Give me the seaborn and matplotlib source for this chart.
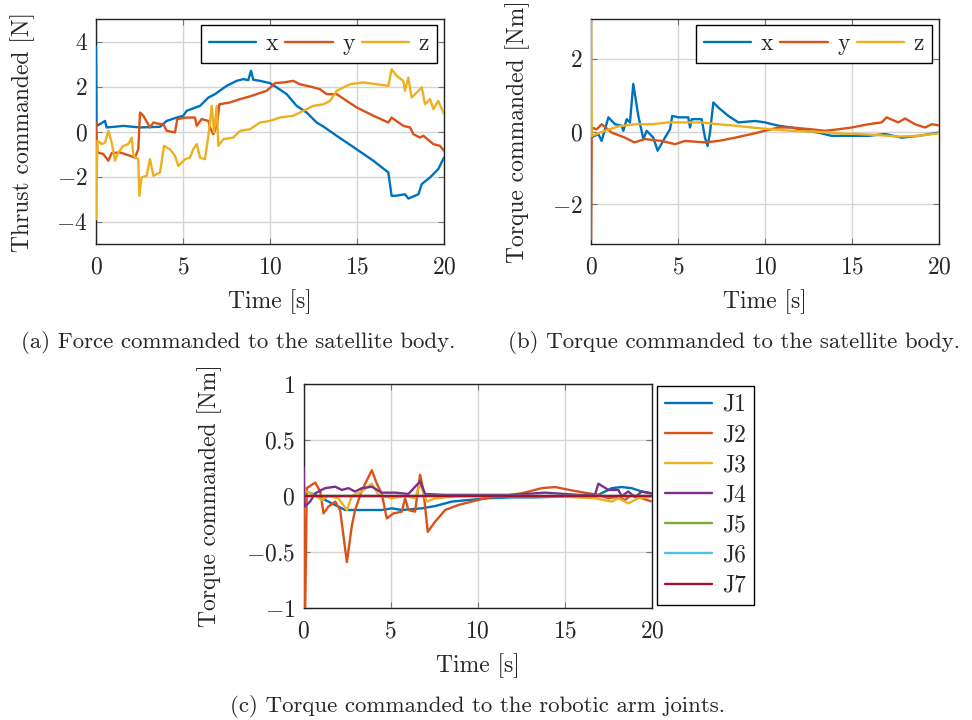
import numpy as np
import pandas as pd
import matplotlib.pyplot as plt
from matplotlib.ticker import FuncFormatter
import seaborn as sns

# ---- data ----
# (a) thrust commanded [N]
fx_t = [0, 0.03, 0.23, 0.52, 0.61, 1.19, 1.57, 2.53, 3.68, 4.06, 4.64, 5.02, 5.21, 5.98, 6.46, 6.84,
        7.51, 8.08, 8.47, 8.75, 8.91, 9.04, 9.43, 10.0, 10.38, 10.96, 11.53, 12.11, 12.68, 13.07, 13.83,
        14.98, 15.94, 16.80, 16.99, 17.18, 17.76, 17.95, 18.53, 18.72, 19.20, 19.67, 20.0]
fx_v = [3.76, 0.25, 0.33, 0.47, 0.18, 0.22, 0.25, 0.18, 0.21, 0.47, 0.62, 0.70, 0.92, 1.14, 1.51, 1.66,
        2.03, 2.25, 2.33, 2.28, 2.70, 2.30, 2.25, 2.15, 1.96, 1.66, 1.14, 0.84, 0.40, 0.22, -0.19,
        -0.79, -1.30, -1.82, -2.86, -2.86, -2.79, -2.98, -2.79, -2.34, -2.04, -1.67, -1.16]
fy_t = [0, 0.08, 0.42, 0.71, 0.90, 1.38, 1.95, 2.24, 2.43, 2.53, 2.72, 3.10, 3.30, 3.68, 3.87, 4.06,
        4.54, 4.67, 5.21, 5.69, 5.79, 6.07, 6.46, 6.55, 6.74, 6.94, 7.09, 7.70, 8.28, 8.85, 9.23, 9.81,
        10.29, 10.77, 11.34, 11.72, 12.30, 12.87, 13.26, 13.83, 14.41, 14.98, 15.94, 16.80, 16.99,
        17.66, 18.05, 18.24, 18.62, 18.81, 19.39, 19.77, 20.0]
fy_v = [0.40, -0.93, -1.0, -1.30, -0.96, -0.93, -1.08, -1.16, -0.79, 0.84, 0.70, 0.18, 0.40, 0.33, 0.33, 0.03,
        -0.04, 0.55, 0.62, 0.62, 0.25, 0.55, 0.47, 0.18, -0.12, 0.25, 1.21, 1.29, 1.44, 1.56, 1.66, 1.81,
        2.15, 2.18, 2.25, 2.10, 2.0, 1.88, 1.66, 1.66, 1.36, 1.07, 0.70, 0.40, 0.62,
        0.25, 0.18, -0.12, -0.27, -0.19, -0.56, -0.64, -0.86]
fz_t = [0, 0.08, 0.33, 0.52, 0.71, 0.90, 1.09, 1.28, 1.57, 1.86, 2.05, 2.15, 2.43, 2.49, 2.62, 2.91,
        3.10, 3.30, 3.68, 3.91, 4.25, 4.54, 4.73, 5.12, 5.40, 5.59, 5.79, 5.98, 6.26, 6.46, 6.65, 6.78,
        6.94, 7.03, 7.32, 7.89, 8.28, 8.85, 9.43, 10.0, 10.57, 11.34, 11.92, 12.49, 13.07, 13.45, 13.83,
        14.60, 15.36, 16.13, 16.80, 16.99, 17.28, 17.66, 17.76, 17.95, 18.14, 18.43, 18.72, 18.91,
        19.20, 19.39, 19.67, 20.0]
fz_v = [-3.9, -0.41, -0.56, -0.49, 0.03, -0.49, -1.30, -0.93, -0.64, -0.56, -0.27, -1.08, -1.23, -2.86, -2.04, -1.97,
        -1.23, -1.97, -1.82, -0.64, -0.79, -1.08, -1.53, -1.23, -1.16, -0.79, -0.56, -1.16, -1.23, -0.19, 1.14, -0.04,
        1.14, -0.64, -0.34, -0.27, 0.03, 0.10, 0.40, 0.47, 0.62, 0.70, 0.92, 1.14, 1.21, 1.36, 1.81,
        2.10, 2.18, 2.10, 2.03, 2.77, 2.47, 2.25, 1.81, 2.40, 1.51, 1.73, 1.96, 1.21,
        1.44, 0.99, 1.36, 0.77]

# (b) torque commanded [Nm]
tx_t = [0, 0.42, 0.61, 1.0, 1.38, 1.76, 1.86, 2.05, 2.24, 2.43, 2.72, 3.01, 3.20, 3.58, 3.83, 4.25,
        4.54, 4.67, 5.02, 5.59, 5.69, 5.79, 6.36, 6.55, 6.70, 6.84, 7.03, 7.32, 7.89, 8.47, 9.43, 10.0,
        10.77, 11.53, 12.30, 13.07, 13.83, 14.98, 15.94, 16.90, 17.85, 18.81, 20.0]
tx_v = [-0.17, -0.07, -0.26, 0.39, 0.20, 0.16, 0.02, 0.34, 0.25, 1.31, 0.43, -0.21, 0.02, -0.17, -0.53, -0.17,
        0.06, 0.43, 0.39, 0.39, 0.11, 0.34, 0.34, -0.17, -0.40, -0.03, 0.80, 0.66, 0.43, 0.25, 0.29, 0.25,
        0.16, 0.11, 0.02, -0.03, -0.12, -0.12, -0.12, -0.07, -0.17, -0.12, -0.03]
ty_t = [0, 0.04, 0.33, 0.61, 1.19, 1.95, 2.49, 3.10, 4.06, 4.83, 5.40, 6.55, 7.32, 8.28, 9.23, 10.0,
        10.77, 11.53, 12.68, 13.45, 14.21, 14.98, 15.94, 16.70, 16.99, 17.66, 18.05, 18.62, 19.20, 19.58, 20.0]
ty_v = [-2.97, 0.11, 0.06, 0.20, -0.03, -0.17, -0.30, -0.21, -0.26, -0.35, -0.26, -0.30, -0.26, -0.17, -0.07, 0.02,
        0.11, 0.11, 0.06, 0.02, 0.06, 0.11, 0.20, 0.25, 0.39, 0.25, 0.36, 0.20, 0.11, 0.20, 0.17]
tz_t = [0, 0.04, 0.8, 1.57, 2.53, 3.49, 4.44, 5.40, 6.36, 7.32, 8.28, 9.23, 10.38, 11.53, 13.07, 14.21,
        15.36, 16.51, 17.66, 18.81, 20.0]
tz_v = [3.05, -0.12, 0.02, 0.14, 0.20, 0.20, 0.25, 0.25, 0.25, 0.20, 0.16, 0.11, 0.06, 0.02, -0.01, -0.05,
        -0.07, -0.10, -0.14, -0.12, -0.05]

# (c) joint torques [Nm]
j1_t = [0, 0.67, 1.43, 2.39, 3.35, 4.49, 5.07, 5.64, 6.79, 7.55, 8.51, 9.46, 10.61, 11.95, 13.29, 14.82,
        16.16, 16.92, 17.69, 18.26, 18.83, 19.41, 20.0]
j1_v = [0.05, 0.01, -0.05, -0.125, -0.125, -0.125, -0.11, -0.125, -0.11, -0.09, -0.05, -0.036, -0.02, -0.012,
        -0.012, -0.006, 0.0, 0.01, 0.07, 0.08, 0.07, 0.04, 0.02]
j2_t = [0, 0.1, 0.19, 0.67, 0.96, 1.15, 1.43, 1.82, 2.10, 2.49, 2.77, 2.96, 3.35, 3.92, 4.21, 4.49, 4.78,
        5.16, 5.64, 5.83, 6.02, 6.40, 6.69, 6.88, 7.13, 7.55, 8.13, 8.89, 9.66, 10.42, 11.38, 12.52, 13.67,
        14.44, 15.39, 16.35, 16.92, 17.50, 18.07, 18.45, 18.83, 19.41, 20.0]
j2_v = [0.08, -1.0, 0.07, 0.12, 0.04, -0.155, -0.095, -0.05, -0.125, -0.59, -0.27, -0.125, 0.05, 0.23, 0.11,
        0.02, -0.2, -0.155, -0.14, -0.02, -0.125, -0.14, 0.19, 0.05, -0.32, -0.23, -0.125, -0.08, -0.05, -0.02,
        0.0, 0.024, 0.07, 0.08, 0.05, 0.024, 0.01, -0.02, -0.006, -0.036, 0.01, -0.02, -0.05]
j3_t = [0, 0.48, 1.05, 1.43, 2.0, 2.49, 2.77, 3.35, 3.92, 4.30, 5.07, 5.83, 6.40, 6.69, 7.07, 7.55, 9.08,
        10.99, 12.9, 14.82, 16.73, 17.69, 18.07, 18.64, 19.22, 20.0]
j3_v = [0.05, 0.02, -0.036, 0.0, -0.02, -0.125, 0.0, 0.04, 0.11, 0.01, -0.02, 0.0, -0.02, 0.11, -0.05, -0.02,
        0.0, 0.0, 0.0, -0.006, -0.02, -0.05, -0.02, -0.065, -0.02, -0.006]
j4_t = [0, 0.06, 0.38, 0.67, 1.24, 1.82, 2.2, 2.58, 2.96, 3.35, 3.92, 4.49, 5.26, 6.02, 6.69, 6.98, 8.13,
        10.04, 11.95, 13.86, 15.77, 16.73, 16.92, 17.50, 18.07, 18.26, 18.64, 19.02, 19.41, 20.0]
j4_v = [0.26, -0.095, -0.05, 0.024, 0.07, 0.083, 0.054, 0.07, 0.04, 0.07, 0.083, 0.03, 0.03, 0.018, 0.13,
        0.018, 0.01, 0.01, 0.01, 0.03, 0.01, 0.01, 0.11, 0.054, 0.054, 0.0, 0.04, -0.01, 0.04, 0.024]
j5_t = [0, 20.0]
j5_v = [0.0, 0.0]
j6_t = [0, 20.0]
j6_v = [0.0, 0.0]
j7_t = [0, 20.0]
j7_v = [0.0, 0.0]

xyz_labels = ['x', 'y', 'z']
joint_labels = ['J1', 'J2', 'J3', 'J4', 'J5', 'J6', 'J7']
colors = ['#0072BD', '#D95319', '#EDB120', '#7E2F8E', '#77AC30', '#4DBEEE', '#A2142F']

# ---- style ----
sns.set_theme(style='whitegrid')
plt.rcParams.update({
    'font.family': ['cmr10', 'DejaVu Serif'],
    'mathtext.fontset': 'cm',
    'axes.formatter.use_mathtext': True,
    'axes.edgecolor': '#222222',
    'axes.linewidth': 1.0,
    'grid.color': '#d4d4d4',
    'grid.linewidth': 1.0,
    'axes.facecolor': 'white',
})

FS = 17
LW = 1.7

fig = plt.figure(figsize=(9.72, 7.2), dpi=100)
ax1 = fig.add_axes([96 / 972, 1 - 244 / 720, 348 / 972, 225 / 720])
ax2 = fig.add_axes([591 / 972, 1 - 244 / 720, 348 / 972, 225 / 720])
ax3 = fig.add_axes([303.5 / 972, 1 - 608 / 720, 348.5 / 972, 224 / 720])


def draw(ax, series, labels):
    for (t, v), lab, c in zip(series, labels, colors):
        sns.lineplot(x=t, y=v, ax=ax, color=c, linewidth=LW, label=lab,
                     estimator=None, sort=False, zorder=3)


draw(ax1, [(fx_t, fx_v), (fy_t, fy_v), (fz_t, fz_v)], xyz_labels)
draw(ax2, [(tx_t, tx_v), (ty_t, ty_v), (tz_t, tz_v)], xyz_labels)
draw(ax3, [(j1_t, j1_v), (j2_t, j2_v), (j3_t, j3_v), (j4_t, j4_v),
           (j5_t, j5_v), (j6_t, j6_v), (j7_t, j7_v)], joint_labels)

# tick labels like pgfplots: 1, 0.5, 0, -0.5
fmt = FuncFormatter(lambda v, pos: f'${v:g}$')

for ax in (ax1, ax2, ax3):
    ax.set_xlim(0, 20)
    ax.set_xticks([0, 5, 10, 15, 20])
    ax.xaxis.set_major_formatter(fmt)
    ax.yaxis.set_major_formatter(fmt)
    ax.tick_params(axis='both', labelsize=FS, direction='in', length=4, width=0.8,
                   color='#777777', bottom=True, left=True, top=True, right=True)
    ax.tick_params(axis='x', pad=9)
    ax.tick_params(axis='y', pad=6)
    ax.set_xlabel('Time [s]', fontsize=FS)
    ax.xaxis.set_label_coords(0.5, -0.20)
    for s in ax.spines.values():
        s.set_color('#222222')
    ax.grid(True)

ax1.set_ylim(-5, 5)
ax1.set_yticks([-4, -2, 0, 2, 4])
ax1.set_ylabel('Thrust commanded [N]', fontsize=FS)
ax1.yaxis.set_label_coords(-0.175, 0.5)

ax2.set_ylim(-3.1, 3.1)
ax2.set_yticks([-2, 0, 2])
ax2.set_ylabel('Torque commanded [Nm]', fontsize=FS)
ax2.yaxis.set_label_coords(-0.175, 0.5)

ax3.set_ylim(-1, 1)
ax3.set_yticks([-1, -0.5, 0, 0.5, 1])
ax3.set_ylabel('Torque commanded [Nm]', fontsize=FS)
ax3.yaxis.set_label_coords(-0.235, 0.5)

leg_kw = dict(fontsize=FS, frameon=True, fancybox=False, edgecolor='black', framealpha=1,
              borderpad=0.35, handletextpad=0.4, borderaxespad=0)
for ax in (ax1, ax2):
    lg = ax.legend(loc='upper right', bbox_to_anchor=(0.98, 0.975), ncol=3,
                   handlelength=2.0, columnspacing=0.3, **leg_kw)
    lg.get_frame().set_linewidth(1.0)

lg = ax3.legend(loc='upper left', bbox_to_anchor=(1.014, 0.993), ncol=1,
                handlelength=2.0, labelspacing=0.34, **leg_kw)
lg.get_frame().set_linewidth(1.0)

fig.text(238 / 972, 1 - 343 / 720, '(a) Force commanded to the satellite body.',
         ha='center', va='center', fontsize=16.5)
fig.text(734 / 972, 1 - 343 / 720, '(b) Torque commanded to the satellite body.',
         ha='center', va='center', fontsize=16.5)
fig.text(477 / 972, 1 - 707 / 720, '(c) Torque commanded to the robotic arm joints.',
         ha='center', va='center', fontsize=16.5)

fig.savefig('out.png', dpi=100)
